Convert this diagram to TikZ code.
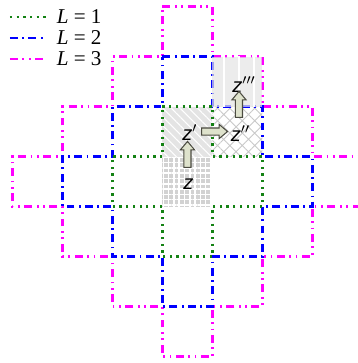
\documentclass[tikz,border=0pt]{standalone}
\usepackage{fontspec}
\setmainfont{Liberation Serif}
\setsansfont{Liberation Sans}
\usepackage{tikz}
\usetikzlibrary{calc, shapes.arrows, patterns.meta}
\definecolor{lgreen}{RGB}{20, 130, 20}
\definecolor{lblue}{RGB}{0, 0, 255}
\definecolor{lmagenta}{RGB}{255, 0, 255}
\definecolor{cellgray}{RGB}{210, 210, 210}
\definecolor{lightcell}{RGB}{228, 228, 228}
\definecolor{hatchgray}{RGB}{200, 200, 200}
\definecolor{arrowfill}{RGB}{222, 226, 204}
\definecolor{arrowdraw}{RGB}{75, 75, 65}
\newcommand{\zsym}{\textsf{\textit{z}}}

\tikzset{
  lone/.style={lgreen, line width=1.3pt, dash pattern=on 1.3pt off 2.5pt},
  ltwo/.style={lblue, line width=1.5pt,
    dash pattern=on 4.5pt off 2.5pt on 1pt off 2.5pt},
  lthree/.style={lmagenta, line width=1.4pt,
    dash pattern=on 4.5pt off 2.6pt on 1pt off 2.6pt on 1pt off 2.6pt},
  movearrow/.style={single arrow, draw=arrowdraw, fill=arrowfill,
    line width=0.6pt, inner sep=0.06cm, minimum height=0.52cm,
    single arrow head extend=0.07cm, single arrow tip angle=80},
  zlabel/.style={anchor=base west, font=\fontsize{11.5}{13}\selectfont, inner sep=0pt},
  keylabel/.style={anchor=west, font=\fontsize{12}{14}\selectfont, inner sep=0pt}
}

\begin{document}
\begin{tikzpicture}
        \useasboundingbox (-3.75,-3.63) rectangle (3.41,3.63);
        % Cell centres along the path
        \coordinate (c0) at (0,0);
        \coordinate (c1) at (0,1);
        \coordinate (c2) at (1,1);
        \coordinate (c3) at (1,2);
        % Start cell z
        \fill[cellgray] (-0.5,-0.5) rectangle (0.5,0.5);
        \fill[pattern={Hatch[distance=3pt, line width=0.9pt]}, pattern color=white]
          (-0.5,-0.5) rectangle (0.5,0.5);
        % Cell z'
        \fill[lightcell] (-0.5,0.5) rectangle (0.5,1.5);
        \fill[pattern={Lines[angle=-45, distance=3.5pt, line width=0.6pt]}, pattern color=white]
          (-0.5,0.5) rectangle (0.5,1.5);
        % Cell z''
        \fill[pattern={Hatch[angle=45, distance=5pt, line width=0.5pt]}, pattern color=hatchgray]
          (0.5,0.5) rectangle (1.5,1.5);
        % Ball L = 3
        \draw[lthree] (-0.5,3.5) -- ++(1,0)
          \foreach \k in {1,2,3} {-- ++(0,-1) -- ++(1,0)} -- ++(0,-1)
          \foreach \k in {1,2,3} {-- ++(-1,0) -- ++(0,-1)} -- ++(-1,0)
          \foreach \k in {1,2,3} {-- ++(0,1) -- ++(-1,0)} -- ++(0,1)
          \foreach \k in {1,2,3} {-- ++(1,0) -- ++(0,1)};
        % Ball L = 2
        \draw[ltwo] (-0.5,2.5) -- ++(1,0)
          \foreach \k in {1,2} {-- ++(0,-1) -- ++(1,0)} -- ++(0,-1)
          \foreach \k in {1,2} {-- ++(-1,0) -- ++(0,-1)} -- ++(-1,0)
          \foreach \k in {1,2} {-- ++(0,1) -- ++(-1,0)} -- ++(0,1)
          \foreach \k in {1,2} {-- ++(1,0) -- ++(0,1)};
        % Ball L = 1
        \draw[lone] (-0.5,1.5) -- ++(1,0) -- ++(0,-1) -- ++(1,0) -- ++(0,-1)
          -- ++(-1,0) -- ++(0,-1) -- ++(-1,0) -- ++(0,1) -- ++(-1,0)
          -- ++(0,1) -- ++(1,0) -- cycle;
        % Cell z'''
        \fill[lightcell, fill opacity=0.7] (0.5,1.5) rectangle (1.5,2.5);
        \fill[pattern={Lines[angle=90, distance=8.5pt, line width=1pt]}, pattern color=white]
          (0.5,1.5) rectangle (1.5,2.5);
        % Labels
        \node[zlabel] (z) at (-0.09,-0.15) {\zsym};
        \node[zlabel] (zp) at (-0.11,0.83) {\zsym$'$};
        \node[zlabel] (zpp) at (0.86,0.81) {\zsym$''$};
        \node[zlabel] (zppp) at (0.89,1.78) {\zsym$'''$};
        % Moves
        \node[movearrow, rotate=90] (m1) at ($(c0)!0.5!(c1)$) {};
        \node[movearrow] (m2) at ($(c1)!0.5!(c2)$) {};
        \node[movearrow, rotate=90] (m3) at ($(c2)!0.5!(c3)+(0.03,0)$) {};
        % Legend
        \node[keylabel] (key1) at (-2.62,3.29) {\textit{L} = 1};
        \node[keylabel] (key2) at (-2.62,2.87) {\textit{L} = 2};
        \node[keylabel] (key3) at (-2.62,2.45) {\textit{L} = 3};
        \draw[lone] ($(key1.west)+(-0.93,0)$) -- ($(key1.west)+(-0.21,0)$);
        \draw[ltwo] ($(key2.west)+(-0.93,0)$) -- ($(key2.west)+(-0.21,0)$);
        \draw[lthree] ($(key3.west)+(-0.93,0)$) -- ($(key3.west)+(-0.21,0)$);
      \end{tikzpicture}
\end{document}
